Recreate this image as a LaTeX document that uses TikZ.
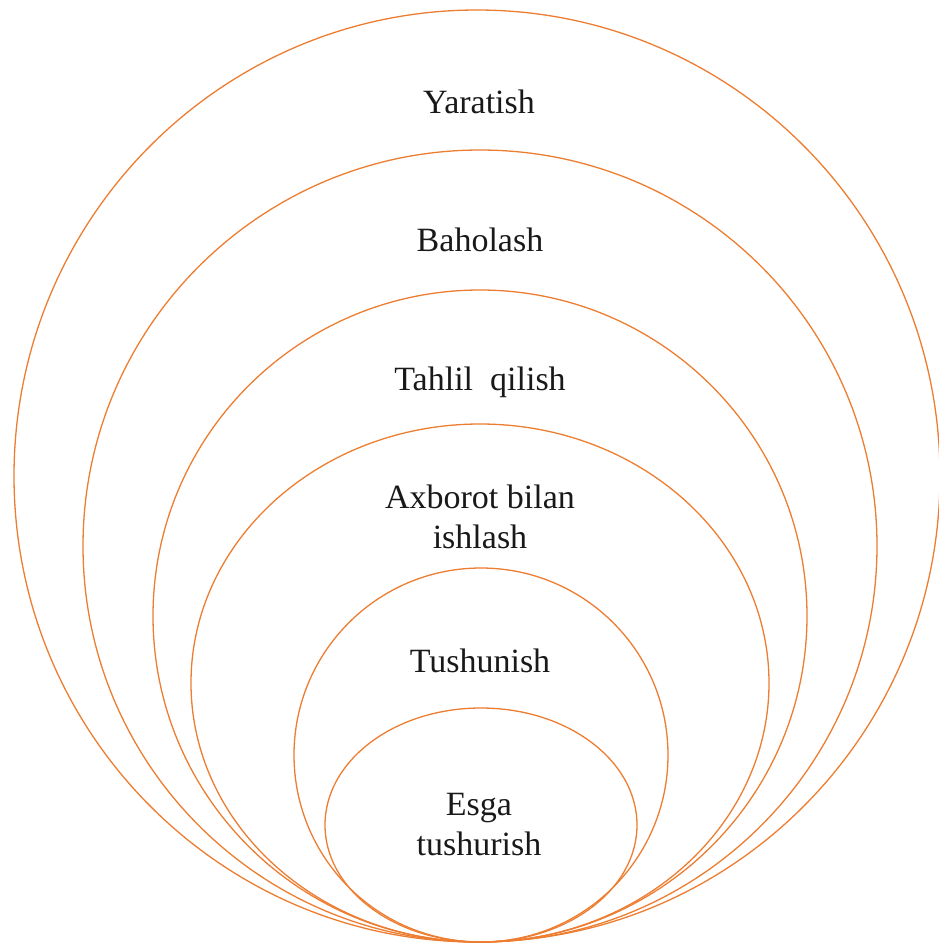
\documentclass[tikz,border=0pt]{standalone}
\usepackage{xcolor}
\usepackage{fontspec}
\setmainfont{LiberationSerif-Regular.ttf}
\usepackage{tikz}
\usetikzlibrary{positioning}

\definecolor{ringorange}{RGB}{237,125,49}

\begin{document}
\begin{tikzpicture}[x=1pt, y=-1pt]
    \tikzstyle{ring} = [draw=ringorange, line width=1.3pt]
    \tikzstyle{level} = [font=\fontsize{34}{40}\selectfont, align=center,
        text=black!90, inner sep=0pt, anchor=base]

    \useasboundingbox (0,0) rectangle (939,946);

    % nested rings, all touching at the bottom
    \path [ring] (477,476) ellipse [x radius=463pt, y radius=466pt];
    \path [ring] (480,546) ellipse [x radius=397pt, y radius=396pt];
    \path [ring] (480,616) ellipse [x radius=327pt, y radius=326pt];
    \path [ring] (480,683) ellipse [x radius=289pt, y radius=259pt];
    \path [ring] (481,755) ellipse [x radius=187pt, y radius=187pt];
    \path [ring] (481,825) ellipse [x radius=156pt, y radius=117pt];

    % base of a two-line node is its last line
    \node [level] (yaratish) at (479,113) {Yaratish};
    \node [level] (baholash) at (480,251) {Baholash};
    \node [level] (tahlil) at (480,390) {Tahlil\ \ qilish};
    \node [level] (axborot) at (480,548) {Axborot bilan\\ishlash};
    \node [level] (tushunish) at (480,672) {Tushunish};
    \node [level] (esga) at (479,855) {Esga\\tushurish};
\end{tikzpicture}
\end{document}
